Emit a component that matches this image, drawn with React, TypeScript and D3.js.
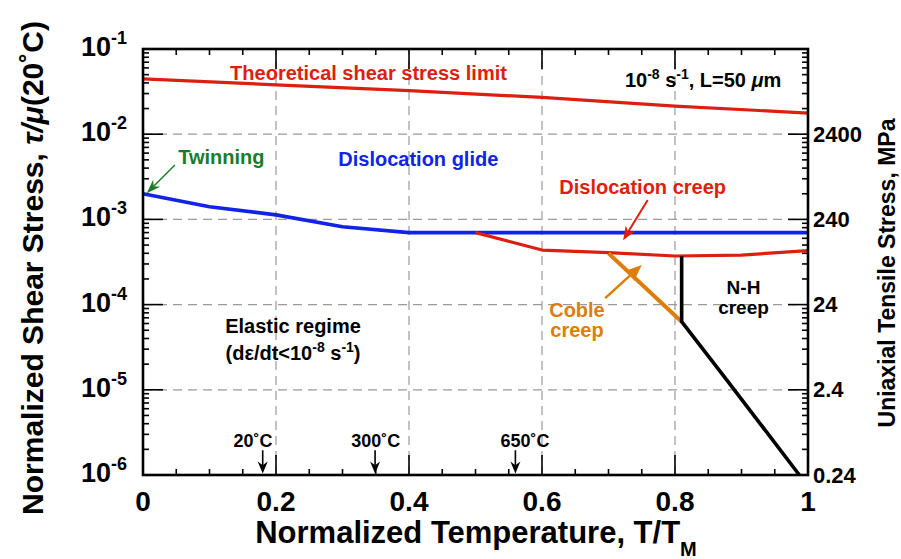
import { useEffect, useRef } from 'react'
import * as d3 from 'd3'

const W = 901
const H = 559

// curves: normalized temperature T/Tm vs normalized shear stress tau/mu
const theoreticalT = [0, 0.2, 0.4, 0.6, 0.8, 1]
const theoreticalS = [0.0445, 0.038, 0.0325, 0.027, 0.0214, 0.0177]
const glideT = [0, 0.1, 0.2, 0.3, 0.4, 1]
const glideS = [0.002, 0.00141, 0.00113, 0.00082, 0.0007, 0.0007]
const creepT = [0.5, 0.6, 0.7, 0.8, 0.9, 1]
const creepS = [0.0007, 0.000437, 0.000407, 0.000372, 0.000381, 0.00043]
const cobleT = [0.7, 0.81]
const cobleS = [0.0004, 0.000063]
const nhT = [0.81, 0.81, 0.878, 0.987]
const nhS = [0.00037, 0.000063, 0.000013, 0.000001]

// axes
const xTicks = [0, 0.2, 0.4, 0.6, 0.8, 1]
const xTickLabels = ['0', '0.2', '0.4', '0.6', '0.8', '1']
const yDecades = [1e-1, 1e-2, 1e-3, 1e-4, 1e-5, 1e-6]
const yExponents = ['-1', '-2', '-3', '-4', '-5', '-6']
const mpaDecades = [1e-2, 1e-3, 1e-4, 1e-5, 1e-6]
const mpaLabels = ['2400', '240', '24', '2.4', '0.24']

// temperature markers on the T axis
const tempT = [0.18, 0.349, 0.56]
const tempLabels = ['20˚C', '300˚C', '650˚C']

const RED = '#dc1f0e'
const BLUE = '#1023e6'
const GREEN = '#1b7d25'
const ORANGE = '#de7d0a'
const FONT = 'Liberation Sans, Arial, Helvetica, sans-serif'

export default function App() {
  const svgRef = useRef<SVGSVGElement>(null)

  useEffect(() => {
    if (!svgRef.current) return
    const svg = d3.select(svgRef.current)
    svg.selectAll('*').remove()

    const x = d3.scaleLinear().domain([0, 1]).range([143, 808])
    const y = d3.scaleLog().domain([1e-6, 1e-1]).range([475, 49])
    const [x0, x1] = x.range()
    const [y0, y1] = y.range()

    const g = svg.append('g').attr('font-family', FONT).attr('font-weight', 'bold')

    // grid
    const grid = g.append('g').attr('stroke', '#9a9a9a').attr('stroke-width', 1.2).attr('stroke-dasharray', '9,6')
    xTicks.slice(1, -1).forEach(t => {
      grid.append('line').attr('x1', x(t)).attr('x2', x(t)).attr('y1', y0).attr('y2', y1)
    })
    yDecades.slice(1, -1).forEach(v => {
      grid.append('line').attr('x1', x0).attr('x2', x1).attr('y1', y(v)).attr('y2', y(v))
    })

    // ticks
    const ticks = g.append('g').attr('stroke', '#000').attr('stroke-width', 1.6)
    d3.range(0, 1.0001, 0.05).forEach(t => {
      const major = xTicks.some(m => Math.abs(m - t) < 1e-6)
      const len = major ? 20 : 6
      ticks.append('line').attr('x1', x(t)).attr('x2', x(t)).attr('y1', y0).attr('y2', y0 - len)
      ticks.append('line').attr('x1', x(t)).attr('x2', x(t)).attr('y1', y1).attr('y2', y1 + len)
    })
    yDecades.forEach(v => {
      ticks.append('line').attr('x1', x0).attr('x2', x0 + 20).attr('y1', y(v)).attr('y2', y(v))
    })
    mpaDecades.forEach(v => {
      ticks.append('line').attr('x1', x1).attr('x2', x1 - 20).attr('y1', y(v)).attr('y2', y(v))
    })
    yDecades.slice(1).forEach(d => {
      d3.range(2, 10).forEach(k => {
        const v = d * k
        ticks.append('line').attr('x1', x0).attr('x2', x0 + 6).attr('y1', y(v)).attr('y2', y(v))
        ticks.append('line').attr('x1', x1).attr('x2', x1 - 6).attr('y1', y(v)).attr('y2', y(v))
      })
    })

    // curves
    const line = d3.line<[number, number]>().x(d => x(d[0])).y(d => y(d[1]))
    const curve = (ts: number[], ss: number[], color: string, w: number) => {
      g.append('path')
        .datum(ts.map((t, i) => [t, ss[i]] as [number, number]))
        .attr('fill', 'none')
        .attr('stroke', color)
        .attr('stroke-width', w)
        .attr('stroke-linejoin', 'round')
        .attr('d', line)
    }
    curve(theoreticalT, theoreticalS, RED, 3.2)
    curve(glideT, glideS, BLUE, 3.6)
    curve(creepT, creepS, RED, 3.2)
    curve(cobleT, cobleS, ORANGE, 4)
    curve(nhT, nhS, '#000', 3.6)

    // arrows with notched heads
    const arrow = (from: [number, number], to: [number, number], color: string, sw: number, len: number, hw: number) => {
      const ax = x(from[0]), ay = y(from[1]), bx = x(to[0]), by = y(to[1])
      const a = Math.atan2(by - ay, bx - ax)
      const ux = Math.cos(a), uy = Math.sin(a)
      const px = -uy, py = ux
      const bkx = bx - ux * len, bky = by - uy * len
      const nx = bx - ux * len * 0.7, ny = by - uy * len * 0.7
      g.append('line').attr('x1', ax).attr('y1', ay).attr('x2', nx).attr('y2', ny)
        .attr('stroke', color).attr('stroke-width', sw)
      g.append('path')
        .attr('d', `M${bx},${by}L${bkx + px * hw},${bky + py * hw}L${nx},${ny}L${bkx - px * hw},${bky - py * hw}Z`)
        .attr('fill', color)
    }
    arrow([0.048, 0.00435], [0.0056, 0.00203], GREEN, 1.5, 14, 5)
    arrow([0.759, 0.00169], [0.722, 0.00057], RED, 2, 14, 5.5)
    arrow([0.695, 0.000119], [0.75, 0.000292], ORANGE, 2.5, 17, 7)
    tempT.forEach(t => arrow([t, 1.95e-6], [t, 1.04e-6], '#000', 1.6, 12, 5))

    // frame
    g.append('rect').attr('x', x0).attr('y', y1).attr('width', x1 - x0).attr('height', y0 - y1)
      .attr('fill', 'none').attr('stroke', '#000').attr('stroke-width', 2.6)

    // tick labels
    yDecades.forEach((v, i) => {
      const t = g.append('text').attr('x', 127).attr('y', y(v) + 7).attr('text-anchor', 'end').attr('font-size', 27)
      t.append('tspan').text('10')
      t.append('tspan').attr('dy', -12).attr('font-size', 18).text(yExponents[i])
    })
    xTicks.forEach((t, i) => {
      g.append('text').attr('x', x(t)).attr('y', 511).attr('text-anchor', 'middle').attr('font-size', 28).text(xTickLabels[i])
    })
    mpaDecades.forEach((v, i) => {
      g.append('text').attr('x', 813).attr('y', y(v) + 7.5).attr('font-size', 22).text(mpaLabels[i])
    })

    // axis titles
    const xt = g.append('text').attr('x', 476).attr('y', 543).attr('text-anchor', 'middle').attr('font-size', 31)
    xt.append('tspan').text('Normalized Temperature, T/T')
    xt.append('tspan').attr('dy', 13).attr('font-size', 20).text('M')

    const yt = g.append('text').attr('transform', 'translate(43,268) rotate(-90)').attr('text-anchor', 'middle').attr('font-size', 30)
    yt.append('tspan').text('Normalized Shear Stress, ')
    yt.append('tspan').attr('font-style', 'italic').text('τ/μ')
    yt.append('tspan').text('(20˚C)')

    g.append('text').attr('transform', 'translate(895,273) rotate(-90)').attr('text-anchor', 'middle').attr('font-size', 23)
      .text('Uniaxial Tensile Stress, MPa')

    // annotations
    const label = (t: number, s: number, text: string, color: string, anchor = 'start', size = 20) =>
      g.append('text').attr('x', x(t)).attr('y', y(s)).attr('text-anchor', anchor).attr('font-size', size).attr('fill', color).text(text)

    label(0.131, 0.0433, 'Theoretical shear stress limit', RED)
    label(0.053, 0.00447, 'Twinning', GREEN)
    label(0.2937, 0.00418, 'Dislocation glide', BLUE)
    label(0.626, 0.00197, 'Dislocation creep', RED)
    label(0.6526, 0.0000715, 'Coble', ORANGE, 'middle')
    g.append('text').attr('x', x(0.6526)).attr('y', y(0.0000715) + 20).attr('text-anchor', 'middle')
      .attr('font-size', 20).attr('fill', ORANGE).text('creep')
    label(0.903, 0.000132, 'N-H', '#000', 'middle', 19)
    g.append('text').attr('x', x(0.903)).attr('y', y(0.000132) + 20).attr('text-anchor', 'middle')
      .attr('font-size', 19).text('creep')
    label(0.2256, 0.0000468, 'Elastic regime', '#000', 'middle')

    const el = g.append('text').attr('x', x(0.2256)).attr('y', y(0.0000468) + 27).attr('text-anchor', 'middle').attr('font-size', 20)
    el.append('tspan').text('(dε/dt<10')
    el.append('tspan').attr('dy', -8).attr('font-size', 14).text('-8')
    el.append('tspan').attr('dy', 8).text(' s')
    el.append('tspan').attr('dy', -8).attr('font-size', 14).text('-1')
    el.append('tspan').attr('dy', 8).text(')')

    const rate = g.append('text').attr('x', x(0.96)).attr('y', y(0.0355)).attr('text-anchor', 'end').attr('font-size', 20)
    rate.append('tspan').text('10')
    rate.append('tspan').attr('dy', -8).attr('font-size', 14).text('-8')
    rate.append('tspan').attr('dy', 8).text(' s')
    rate.append('tspan').attr('dy', -8).attr('font-size', 14).text('-1')
    rate.append('tspan').attr('dy', 8).text(', L=50 ')
    rate.append('tspan').attr('font-style', 'italic').text('μ')
    rate.append('tspan').text('m')

    const tempLabelT = [0.1654, 0.35, 0.5744]
    tempT.forEach((t, i) => {
      g.append('text').attr('x', x(tempLabelT[i])).attr('y', y(2.16e-6)).attr('text-anchor', 'middle')
        .attr('font-size', 18).text(tempLabels[i])
    })
  }, [])

  return (
    <svg ref={svgRef} width={W} height={H} style={{ position: 'absolute', left: 0, top: 0, background: '#fff' }} />
  )
}
